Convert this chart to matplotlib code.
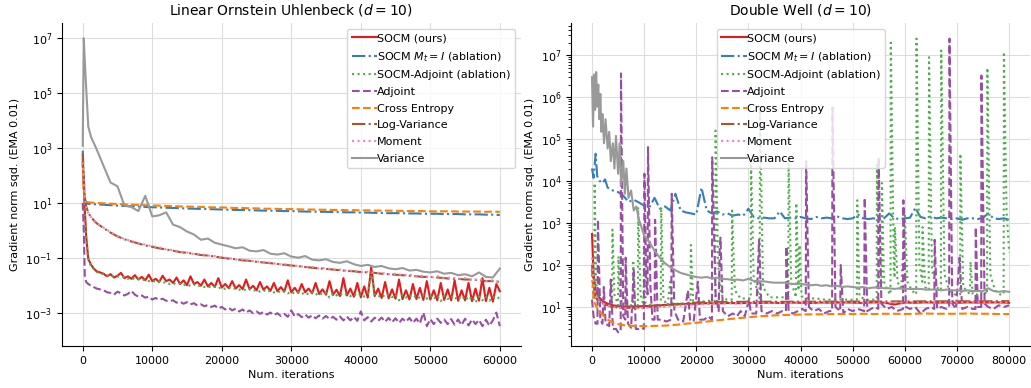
import matplotlib.pyplot as plt
import numpy as np

# ---------------- Linear Ornstein Uhlenbeck (d = 10) ----------------
ou_steps = [0, 150, 300, 500, 800, 1200, 1600, 2000] + list(range(3000, 60001, 1000))
ou_fine_steps = [0, 150, 300, 500, 800, 1200, 1600, 2000, 2500] + list(range(3000, 60001, 500))

# noisy runs, sampled every 500 iterations
ou_socm = [
    3e2, 40, 6, 0.6, 0.09, 0.055, 0.04, 0.032, 0.029,
    0.026, 0.021, 0.025, 0.019, 0.022, 0.028, 0.018, 0.021, 0.017, 0.023,
    0.016, 0.02, 0.015, 0.024, 0.014, 0.017, 0.013, 0.022, 0.014, 0.016,
    0.012, 0.019, 0.011, 0.015, 0.01, 0.021, 0.011, 0.013, 0.0095, 0.016,
    0.009, 0.012, 0.0085, 0.018, 0.0082, 0.011, 0.0078, 0.014, 0.0075, 0.01,
    0.0072, 0.016, 0.007, 0.0095, 0.0065, 0.013, 0.0068, 0.009, 0.0062, 0.012,
    0.006, 0.0085, 0.0058, 0.015, 0.0055, 0.008, 0.0052, 0.011, 0.0055, 0.0075,
    0.005, 0.012, 0.0048, 0.007, 0.0045, 0.014, 0.0044, 0.0068, 0.004, 0.018,
    0.0042, 0.0075, 0.0038, 0.012, 0.0036, 0.009, 0.0035, 0.045, 0.004, 0.0075,
    0.0034, 0.013, 0.0033, 0.007, 0.0032, 0.016, 0.0031, 0.0065, 0.003, 0.011,
    0.0031, 0.008, 0.0029, 0.014, 0.003, 0.0065, 0.0028, 0.012, 0.0029, 0.007,
    0.0028, 0.015, 0.0027, 0.0065, 0.0028, 0.012, 0.0026, 0.0075, 0.0027, 0.018,
    0.0026, 0.008, 0.0025, 0.011, 0.006,
]
ou_socm_adjoint = [
    2.5e2, 35, 5, 0.5, 0.08, 0.05, 0.038, 0.03, 0.027,
    0.025, 0.022, 0.024, 0.02, 0.021, 0.019, 0.02, 0.017, 0.019, 0.016,
    0.017, 0.015, 0.016, 0.014, 0.015, 0.013, 0.014, 0.012, 0.013, 0.011,
    0.012, 0.0105, 0.0115, 0.0098, 0.011, 0.0092, 0.0105, 0.0088, 0.0098, 0.0085,
    0.0092, 0.008, 0.0088, 0.0076, 0.0085, 0.0072, 0.0082, 0.007, 0.0078, 0.0068,
    0.0074, 0.0064, 0.0072, 0.006, 0.0069, 0.0058, 0.0066, 0.0055, 0.0064, 0.0054,
    0.0062, 0.0052, 0.006, 0.005, 0.0058, 0.0048, 0.0056, 0.0047, 0.0055, 0.0045,
    0.0055, 0.0044, 0.0054, 0.0043, 0.0052, 0.0035, 0.0051, 0.0042, 0.005, 0.0041,
    0.0049, 0.004, 0.0048, 0.0039, 0.0048, 0.0038, 0.0047, 0.03, 0.0046, 0.0037,
    0.0046, 0.0036, 0.0045, 0.0036, 0.0045, 0.0028, 0.0044, 0.0035, 0.0044, 0.0034,
    0.0043, 0.0033, 0.0043, 0.0032, 0.0042, 0.0031, 0.0042, 0.0026, 0.0041, 0.0031,
    0.0041, 0.003, 0.004, 0.0029, 0.004, 0.0028, 0.0039, 0.0023, 0.0039, 0.0028,
    0.0038, 0.0027, 0.0038, 0.0031, 0.0037,
]
ou_adjoint = [
    10, 1.0, 0.02, 0.013, 0.011, 0.0095, 0.0085, 0.0075, 0.007,
    0.0065, 0.0055, 0.0052, 0.0045, 0.0058, 0.005, 0.0042, 0.0048, 0.0062, 0.0045,
    0.0038, 0.0042, 0.0035, 0.0038, 0.003, 0.0034, 0.0029, 0.0032, 0.0027, 0.0026,
    0.0028, 0.0023, 0.0025, 0.0021, 0.0024, 0.002, 0.0022, 0.0018, 0.002, 0.0017,
    0.0019, 0.0016, 0.0018, 0.0014, 0.0016, 0.0013, 0.0015, 0.0012, 0.0014, 0.0011,
    0.0013, 0.001, 0.0012, 0.00095, 0.0011, 0.0009, 0.00105, 0.00085, 0.001, 0.0008,
    0.00095, 0.00075, 0.0009, 0.0007, 0.0012, 0.00072, 0.00088, 0.00068, 0.00085, 0.00065,
    0.0008, 0.00062, 0.00078, 0.0006, 0.00075, 0.00058, 0.0007, 0.00055, 0.00072, 0.00052,
    0.00072, 0.00052, 0.0007, 0.0005, 0.0011, 0.00052, 0.00068, 0.00047, 0.00065, 0.0005,
    0.00066, 0.00046, 0.00064, 0.00044, 0.00062, 0.00042, 0.0006, 0.00046, 0.00064, 0.00042,
    0.0006, 0.0004, 0.001, 0.00032, 0.00058, 0.00038, 0.0006, 0.00042, 0.00056, 0.00038,
    0.00058, 0.00036, 0.00056, 0.00035, 0.0006, 0.00034, 0.00056, 0.00038, 0.00054, 0.00032,
    0.00055, 0.00033, 0.00052, 0.001, 0.00032,
]

# smoother runs, sampled every 1000 iterations
ou_socm_identity = [
    8e2, 90, 14, 9.5, 9.2, 9.0, 8.9, 8.8,
    8.5, 8.2, 7.9, 7.7, 7.5, 7.3, 7.1, 6.9, 6.8, 6.6,
    6.5, 6.4, 6.2, 6.1, 6.0, 5.9, 5.8, 5.7, 5.6, 5.5,
    5.5, 5.4, 5.3, 5.2, 5.2, 5.1, 5.0, 5.0, 4.9, 4.8,
    4.8, 4.7, 4.7, 4.6, 4.6, 4.5, 4.5, 4.4, 4.4, 4.3,
    4.3, 4.2, 4.2, 4.2, 4.1, 4.1, 4.0, 4.0, 4.0, 3.9,
    3.9, 3.9, 3.8, 3.8, 3.8, 3.7, 3.7, 3.6,
]
ou_cross_entropy = [
    4e2, 30, 13, 11, 10.5, 10.2, 10, 9.9,
    9.6, 9.3, 9.1, 8.8, 8.6, 8.4, 8.2, 8.0, 7.9, 7.7,
    7.6, 7.4, 7.3, 7.2, 7.1, 6.9, 6.8, 6.8, 6.6, 6.5,
    6.5, 6.3, 6.3, 6.1, 6.1, 6.0, 5.9, 5.9, 5.8, 5.7,
    5.7, 5.6, 5.6, 5.5, 5.5, 5.4, 5.4, 5.3, 5.3, 5.2,
    5.2, 5.2, 5.1, 5.1, 5.0, 5.0, 5.0, 4.9, 4.9, 4.9,
    4.9, 4.8, 4.8, 4.8, 4.8, 4.7, 4.8, 4.7,
]
ou_log_variance = [
    6e2, 70, 16, 7.5, 4.3, 3.0, 2.3, 1.8,
    1.2, 0.82, 0.6, 0.47, 0.39, 0.33, 0.28, 0.25, 0.22, 0.2,
    0.18, 0.16, 0.15, 0.14, 0.125, 0.12, 0.11, 0.1, 0.093, 0.088,
    0.08, 0.077, 0.071, 0.067, 0.063, 0.059, 0.055, 0.052, 0.049, 0.046,
    0.043, 0.041, 0.039, 0.037, 0.035, 0.033, 0.032, 0.03, 0.029, 0.028,
    0.026, 0.025, 0.024, 0.023, 0.022, 0.021, 0.02, 0.02, 0.019, 0.018,
    0.017, 0.017, 0.016, 0.016, 0.015, 0.014, 0.014, 0.013,
]
ou_moment = [
    3e2, 60, 15, 7, 4.2, 3.0, 2.3, 1.8,
    1.25, 0.85, 0.62, 0.48, 0.41, 0.33, 0.3, 0.26, 0.24, 0.2,
    0.19, 0.165, 0.155, 0.135, 0.135, 0.12, 0.115, 0.1, 0.098, 0.086,
    0.085, 0.076, 0.074, 0.066, 0.066, 0.058, 0.058, 0.051, 0.051, 0.045,
    0.046, 0.04, 0.042, 0.036, 0.037, 0.033, 0.034, 0.03, 0.031, 0.027,
    0.028, 0.025, 0.026, 0.023, 0.024, 0.021, 0.022, 0.019, 0.021, 0.018,
    0.019, 0.017, 0.018, 0.015, 0.017, 0.014, 0.015, 0.013,
]
ou_variance = [
    1.2e3, 1e7, 1.5e6, 1.5e5, 6e3, 2.5e3, 1.5e3, 9e2,
    2.2e2, 55, 40, 8, 7, 5, 18, 3.2, 3.5, 4.5,
    1.6, 1.3, 0.9, 0.7, 0.45, 0.5, 0.35, 0.3, 0.26, 0.22,
    0.24, 0.18, 0.17, 0.19, 0.14, 0.13, 0.145, 0.11, 0.1, 0.115,
    0.085, 0.08, 0.088, 0.07, 0.065, 0.074, 0.058, 0.05, 0.055, 0.046,
    0.05, 0.041, 0.038, 0.042, 0.034, 0.036, 0.031, 0.029, 0.032, 0.026,
    0.028, 0.023, 0.025, 0.021, 0.029, 0.02, 0.019, 0.04,
]

# ---------------- Double Well (d = 10) ----------------
dw_steps = [0, 300, 700, 1000, 1500, 2000, 2500] + list(range(3000, 80001, 1000))
dw_smooth_steps = [0, 300, 700, 1200, 2000, 3000, 4000, 5000, 6000, 8000] + list(range(10000, 80001, 2000))
dw_variance_steps = [0, 200, 400, 600, 800, 1000, 1200, 1400, 1600, 1800,
                     2000, 2300, 2600, 3000, 3300, 3600, 4000, 4300, 4600, 5000,
                     5300, 5600, 6000, 6300, 6600, 7000, 7500, 8000, 8500, 9000,
                     9500, 10000] + list(range(11000, 80001, 1000))

dw_socm = [
    550, 60, 25, 18, 14, 12, 11, 10.5, 10.2, 10.3,
    10.5, 10.8, 11.2, 11.5, 11.8, 12.0, 12.3, 12.2, 12.5, 12.3,
    12.6, 12.4, 12.7, 12.5, 12.8, 12.6, 12.5, 12.8, 12.6, 12.9,
    12.7, 12.5, 12.9, 12.7, 11.5, 12.8, 12.6, 12.9, 12.7, 12.8,
    12.6, 12.9, 12.7, 12.8, 12.9, 12.6,
]
dw_socm_identity = [
    2e4, 1.2e4, 4.5e4, 1.3e4, 1e4, 9e3, 1.1e4,
    7e3, 6e3, 5.5e3, 4.5e3, 3.2e3, 3.6e3, 3.1e3, 2.6e3, 2.4e3, 4e3,
    2.2e3, 2.5e3, 2.0e3, 5e3, 2.0e3, 1.8e3, 1.7e3, 1.6e3, 7e3, 2.0e3,
    1.7e3, 1.9e3, 1.6e3, 1.7e3, 1.5e3, 1.6e3, 1.5e3, 2.2e3, 1.4e3, 1.3e3,
    1.35e3, 1.3e3, 1.3e3, 1.9e3, 1.3e3, 1.35e3, 1.3e3, 1.4e3, 1.3e3, 1.25e3,
    1.4e3, 1.3e3, 1.35e3, 1.3e3, 1.45e3, 1.3e3, 1.25e3, 1.3e3, 1.6e3, 1.3e3,
    1.25e3, 1.3e3, 1.2e3, 1.3e3, 1.7e3, 1.3e3, 1.25e3, 1.3e3, 1.35e3, 2.3e3,
    1.4e3, 1.3e3, 1.45e3, 1.3e3, 1.35e3, 1.3e3, 1.25e3, 1.3e3, 1.2e3, 1.3e3,
    1.3e3, 1.25e3, 1.35e3, 1.7e3, 1.3e3, 1.25e3, 1.3e3, 1.2e3,
]
# (iteration, value) pairs, spikes included
dw_socm_adjoint = [
    (0, 80), (200, 20), (400, 15), (500, 9e3), (800, 40), (1200, 15),
    (2000, 12), (3000, 11), (3850, 11), (3920, 700), (4300, 20),
    (5000, 11), (5060, 160), (5400, 15), (6500, 11), (7300, 11),
    (7850, 11), (7900, 130), (8200, 12), (8800, 11), (8850, 2400), (9300, 20),
    (9900, 11), (9950, 300), (10300, 12), (11500, 11), (12500, 11),
    (13200, 11), (13270, 2400), (13700, 15), (14500, 11), (15000, 40), (15400, 12),
    (16500, 12), (17500, 12), (18900, 12), (18960, 300), (19400, 14),
    (20500, 13), (22000, 14), (23650, 14), (23700, 1.6e5), (24200, 100), (24700, 20),
    (25800, 15), (26800, 15), (26860, 2000), (27400, 25), (28500, 16), (29800, 16),
    (30450, 16), (30500, 3e4), (31000, 50), (32150, 16), (32230, 5e5), (32800, 30),
    (34000, 17), (35500, 17), (36500, 17), (37650, 17), (37700, 3e4), (38200, 40),
    (39100, 17), (39180, 3e3), (39600, 25), (39800, 300), (40200, 18),
    (41500, 16), (43000, 16), (44500, 15), (46000, 15), (47500, 15), (49000, 15),
    (50800, 15), (50870, 3.5e3), (51300, 18), (52500, 15), (53800, 15),
    (54600, 15), (54660, 2.7e4), (55100, 30), (55550, 25), (55600, 9e3), (56000, 40),
    (56600, 25), (57250, 20), (57310, 2e7), (57900, 80), (58050, 50), (58100, 800),
    (58600, 40), (59300, 25), (60000, 1500), (60500, 40), (61300, 25),
    (62180, 20), (62240, 2.5e7), (62800, 100), (63350, 40), (63400, 800), (63900, 30),
    (64580, 25), (64640, 9e6), (65200, 80), (66000, 30),
    (66920, 25), (66980, 1.3e7), (67600, 60), (68500, 25), (69500, 20),
    (70600, 20), (70650, 4.5e4), (71200, 30), (72500, 20), (72600, 120), (73000, 20),
    (74000, 20), (75000, 25), (75770, 20), (75830, 5e6), (76400, 60),
    (77300, 25), (78200, 20), (78950, 20), (79000, 1.2e7), (79500, 2000), (80000, 200),
]
dw_adjoint = [
    (0, 15), (300, 6), (700, 4), (1050, 4), (1140, 1200), (1600, 5),
    (2000, 4), (2270, 30), (2600, 4), (3300, 3.5), (3600, 45), (4000, 3),
    (4600, 3), (5000, 2.5), (5500, 2.6), (5560, 3.7e6), (6000, 6),
    (6400, 5), (6450, 150), (6900, 4), (7500, 3.2), (8000, 80), (8400, 3),
    (9000, 3), (9500, 3.2), (9950, 3), (10050, 1.5e4), (10400, 40), (10650, 20),
    (10740, 6.5e4), (11200, 30), (11600, 5), (12000, 5), (12100, 1200), (12600, 5),
    (13500, 5), (14200, 4.5), (15200, 5), (15290, 5e3), (15800, 8),
    (16500, 5), (17500, 4.5), (18400, 25), (18800, 5), (19500, 4.5), (20300, 40),
    (20700, 5), (21500, 5), (22300, 6), (23000, 5), (23060, 3.7e4), (23700, 20),
    (24300, 8), (24500, 250), (24640, 450), (25100, 8),
    (26000, 6), (27000, 7), (27800, 6), (28500, 8), (29300, 6), (30100, 15), (30500, 7),
    (31500, 7), (32040, 400), (32500, 8), (33500, 7), (34500, 8), (35500, 7), (36500, 8),
    (37200, 8), (37280, 280), (37700, 8), (38500, 7), (39500, 8), (40300, 9),
    (41000, 8), (41070, 3e4), (41600, 10), (42500, 8), (43500, 9), (44500, 7), (45500, 8),
    (46050, 8), (46120, 5.7e5), (46700, 10), (47600, 8), (47700, 100), (48200, 7),
    (49000, 9), (50000, 8), (51000, 9), (52200, 8), (52300, 4000), (52800, 8),
    (53500, 9), (54300, 10), (54900, 9), (54980, 3.7e4), (55500, 12),
    (56500, 9), (57500, 10), (58500, 8), (59650, 9), (59720, 3.5e3), (60200, 10),
    (61000, 9), (62000, 10), (63000, 7), (64000, 9), (65000, 10),
    (65650, 9), (65720, 400), (66200, 9), (67000, 10), (68000, 9),
    (68500, 10), (68560, 2.5e7), (69100, 12), (69800, 9), (70500, 150), (71000, 9),
    (72000, 10), (73000, 9), (73550, 9), (73600, 800), (74000, 10),
    (74650, 10), (74690, 3.3e6), (75300, 12), (76000, 10), (77000, 9),
    (78000, 11), (79000, 10), (80000, 11),
]
dw_cross_entropy = [
    80, 15, 11, 8.5, 6.5, 5.0, 4.3, 3.9, 3.7, 3.55,
    3.5, 3.55, 3.6, 3.75, 4.0, 4.2, 4.5, 4.8, 5.1, 5.4,
    5.7, 6.0, 6.2, 6.4, 6.5, 6.6, 6.7, 6.7, 6.8, 6.8,
    6.8, 6.9, 6.8, 6.9, 6.9, 6.8, 6.9, 7.0, 6.9, 6.9,
    6.9, 7.0, 6.9, 6.9, 6.8, 6.8,
]
dw_log_variance = [
    100, 35, 17, 13.5, 12, 11, 10.2, 9.7, 9.5, 9.6,
    9.9, 10.4, 11.0, 11.6, 12.2, 12.7, 13.0, 13.2, 13.2, 13.3,
    13.3, 13.3, 13.4, 13.3, 13.4, 13.4, 13.4, 13.5, 13.4, 13.5,
    13.5, 13.5, 13.6, 13.5, 13.6, 13.6, 13.6, 13.7, 13.6, 13.7,
    13.7, 13.7, 13.8, 13.7, 13.8, 13.8,
]
dw_moment = [
    150, 40, 18, 14, 12, 11, 10, 9.5, 9.3, 9.3,
    9.5, 9.8, 10.2, 10.6, 11.0, 11.4, 11.8, 12.0, 12.2, 12.3,
    12.4, 12.5, 12.5, 12.6, 12.6, 12.6, 12.7, 12.6, 12.7, 12.7,
    12.7, 12.7, 12.8, 12.7, 12.8, 12.8, 12.7, 12.8, 12.8, 12.8,
    12.8, 12.8, 12.9, 12.8, 12.9, 12.9,
]
dw_variance = [
    3e6, 2e5, 3.5e6, 5e5, 4e6, 6e5, 2e6, 3e5, 1.2e6, 1.5e5,
    4e5, 8e4, 3e5, 6e4, 1.5e5, 3e4, 8e4, 2e4, 1.2e5, 1.5e4,
    8e4, 8e3, 3e4, 5e3, 2e4, 4e3, 6e3, 2e3, 2.5e3, 1.2e3,
    8e2, 5e2,
    3.5e2, 2.2e2,
    1.5e2, 1.1e2, 90, 75, 65, 60, 55, 52, 50, 52,
    48, 50, 47, 46, 44, 45, 43, 47, 42, 41,
    41, 39, 38, 38, 38, 36, 35, 36, 34, 33,
    34, 32, 33, 31, 32, 30, 31, 30, 29, 30,
    28, 29, 29, 28, 28, 27, 28, 27, 27, 27,
    27, 26, 26, 26, 25, 26, 25, 25, 24, 25,
    24, 24, 24, 28, 24, 23, 24, 23,
]

labels = ['SOCM (ours)', r'SOCM $M_t=I$ (ablation)', 'SOCM-Adjoint (ablation)', 'Adjoint',
          'Cross Entropy', 'Log-Variance', 'Moment', 'Variance']
colors = ['#e41a1c', '#377eb8', '#4daf4a', '#984ea3', '#ff7f00', '#a65628', '#f781bf', '#999999']
styles = ['-', '-.', ':', '--', '--', '-.', ':', '-']

ou_yticks = [1e-3, 1e-1, 1e1, 1e3, 1e5, 1e7]
dw_yticks = [1e1, 1e2, 1e3, 1e4, 1e5, 1e6, 1e7]


def draw_panel(ax, series, title, ylim, yticks, legend_loc):
    for (xs, ys), lab, col, ls in zip(series, labels, colors, styles):
        ax.plot(xs, ys, color=col, linestyle=ls, linewidth=1.5, label=lab)
    ax.set_yscale('log')
    ax.set_yticks(yticks)
    ax.set_ylim(*ylim)
    ax.set_title(title, fontsize=10)
    ax.set_xlabel('Num. iterations', fontsize=8, labelpad=3)
    ax.set_ylabel('Gradient norm sqd. (EMA 0.01)', fontsize=8)
    ax.tick_params(labelsize=8)
    ax.grid(True, color='#dddddd', linewidth=0.8)
    ax.set_axisbelow(True)
    for side in ['top', 'right']:
        ax.spines[side].set_visible(False)
    ax.legend(loc=legend_loc, fontsize=8, handlelength=2.3, handletextpad=0.0,
              labelspacing=0.6, borderpad=0.4)


fig, axes = plt.subplots(1, 2, figsize=(10.31, 3.88), dpi=100)
fig.subplots_adjust(left=0.06, right=0.999, top=0.94, bottom=0.108, wspace=0.11)

ou_series = [
    (ou_fine_steps, ou_socm),
    (ou_steps, ou_socm_identity),
    (ou_fine_steps, ou_socm_adjoint),
    (ou_fine_steps, ou_adjoint),
    (ou_steps, ou_cross_entropy),
    (ou_steps, ou_log_variance),
    (ou_steps, ou_moment),
    (ou_steps, ou_variance),
]
draw_panel(axes[0], ou_series, r'Linear Ornstein Uhlenbeck ($d=10$)', (6e-5, 3.5e7),
           ou_yticks, 'upper right')

dw_series = [
    (dw_smooth_steps, dw_socm),
    (dw_steps, dw_socm_identity),
    tuple(zip(*dw_socm_adjoint)),
    tuple(zip(*dw_adjoint)),
    (dw_smooth_steps, dw_cross_entropy),
    (dw_smooth_steps, dw_log_variance),
    (dw_smooth_steps, dw_moment),
    (dw_variance_steps, dw_variance),
]
draw_panel(axes[1], dw_series, r'Double Well ($d=10$)', (1.17, 5.8e7),
           dw_yticks, 'upper center')

fig.savefig('out.png', dpi=100)
